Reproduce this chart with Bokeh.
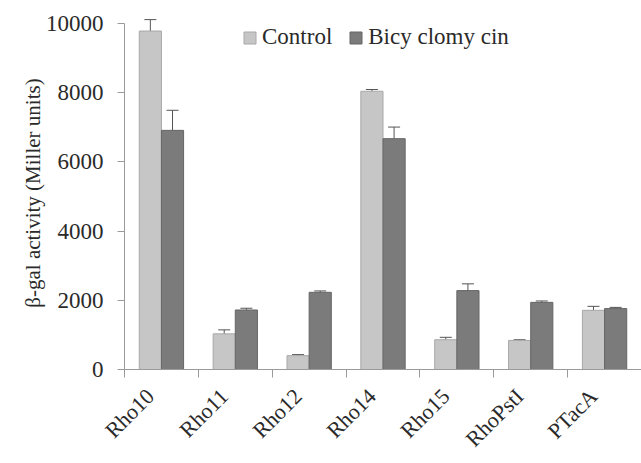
from bokeh.plotting import figure
from bokeh.models import ColumnDataSource, Whisker, FixedTicker, Range1d, Legend, LegendItem, TeeHead
from bokeh.embed import file_html
from bokeh.resources import INLINE
import math

categories = ["Rho10", "Rho11", "Rho12", "Rho14", "Rho15", "RhoPstI", "PTacA"]
control = [9780, 1030, 400, 8040, 860, 840, 1710]
control_err = [330, 115, 30, 50, 70, 20, 115]
bicyclomycin = [6910, 1720, 2230, 6670, 2280, 1940, 1760]
bicyclomycin_err = [580, 50, 40, 335, 195, 40, 35]
series_names = ["Control", "Bicy clomy cin"]
y_ticks = [0, 2000, 4000, 6000, 8000, 10000]

FONT = "Liberation Serif"
TXT = "#2a2a2a"
idx = list(range(len(categories)))
off = 0.15
src_c = ColumnDataSource(dict(x=[i + 0.5 - off for i in idx], top=control,
                              lo=[v - e for v, e in zip(control, control_err)],
                              hi=[v + e for v, e in zip(control, control_err)]))
src_b = ColumnDataSource(dict(x=[i + 0.5 + off for i in idx], top=bicyclomycin,
                              lo=[v - e for v, e in zip(bicyclomycin, bicyclomycin_err)],
                              hi=[v + e for v, e in zip(bicyclomycin, bicyclomycin_err)]))

p = figure(width=641, height=463, output_backend="svg", toolbar_location=None,
           x_range=Range1d(0, 7), y_range=Range1d(0, 10200),
           min_border_left=124, min_border_top=16, min_border_bottom=94, min_border_right=0)
p.outline_line_color = None
p.xgrid.grid_line_color = None
p.ygrid.grid_line_color = None

r1 = p.vbar(x="x", top="top", bottom=0, width=0.3, source=src_c,
            fill_color="#c6c6c6", line_color="#a8a8a8", line_width=1)
r2 = p.vbar(x="x", top="top", bottom=0, width=0.3, source=src_b,
            fill_color="#7b7b7b", line_color="#666666", line_width=1)

for s in (src_c, src_b):
    w = Whisker(base="x", lower="lo", upper="hi", source=s, line_color="#555555", line_width=1,
                upper_head=TeeHead(size=12, line_color="#555555", line_width=1),
                lower_head=TeeHead(size=12, line_color="#555555", line_width=1))
    p.add_layout(w)

# y axis
ya = p.yaxis[0]
ya.ticker = FixedTicker(ticks=y_ticks, minor_ticks=[])
ya.bounds = (0, 10000)
ya.axis_label = "β-gal activity (Miller units)"
ya.axis_label_text_font = FONT
ya.axis_label_text_font_style = "normal"
ya.axis_label_text_font_size = "21px"
ya.axis_label_text_color = TXT
ya.axis_label_standoff = -2
ya.major_label_text_font = FONT
ya.major_label_text_font_size = "23px"
ya.major_label_text_color = TXT
ya.major_label_standoff = 14
ya.axis_line_color = "#9a9a9a"
ya.major_tick_line_color = "#9a9a9a"
ya.major_tick_out = 7
ya.major_tick_in = 0
ya.minor_tick_line_color = None

# x axis: category labels (slightly left of centre, as in the original), ticks at boundaries
label_pos = [i + 0.5 - off for i in idx]
xa = p.xaxis[0]
xa.ticker = FixedTicker(ticks=label_pos, minor_ticks=list(range(len(categories) + 1)))
xa.major_label_overrides = {x: c for x, c in zip(label_pos, categories)}
xa.major_label_orientation = math.pi / 4
xa.major_label_text_font = FONT
xa.major_label_text_font_size = "22px"
xa.major_label_text_color = TXT
xa.major_label_standoff = 15
xa.axis_line_color = "#9a9a9a"
xa.major_tick_line_color = None
xa.minor_tick_line_color = "#9a9a9a"
xa.minor_tick_out = 8
xa.minor_tick_in = 0

legend = Legend(items=[LegendItem(label=series_names[0], renderers=[r1]),
                       LegendItem(label=series_names[1], renderers=[r2])],
                orientation="horizontal", location=(118, 319),
                glyph_width=15, glyph_height=15, label_standoff=5, spacing=16,
                padding=0, margin=0, border_line_color=None, background_fill_alpha=0)
legend.label_text_font = FONT
legend.label_text_font_size = "23px"
legend.label_text_color = TXT
legend.label_text_font_style = "normal"
p.add_layout(legend)

open("out.html", "w").write(file_html(p, INLINE))
